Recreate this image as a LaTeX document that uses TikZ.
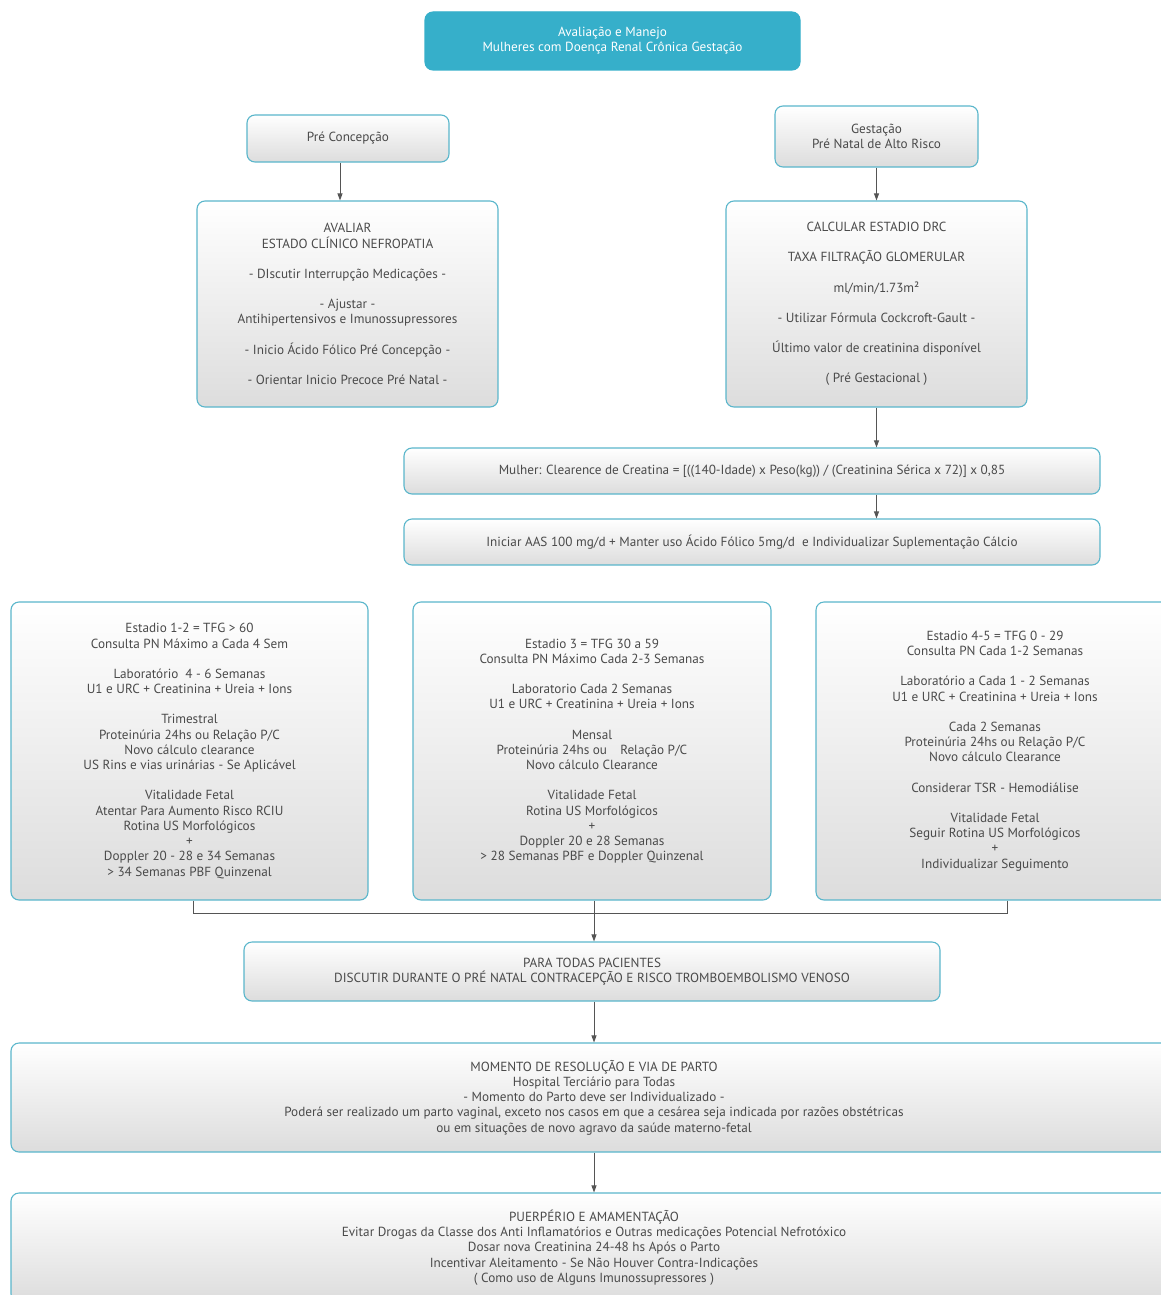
\documentclass[tikz,border=0pt]{standalone}
\usepackage{fontspec}
\setmainfont{PT Sans}
\usepackage{tikz}
\usetikzlibrary{arrows.meta,positioning,calc}
\definecolor{tealhead}{HTML}{36AFCA}
\definecolor{tealborder}{HTML}{5AB6CB}
\definecolor{inkgray}{HTML}{4A4A4A}
\definecolor{linegray}{HTML}{555555}

\begin{document}
\begin{tikzpicture}[
    x=1pt, y=-1pt,
    box/.style={rectangle, rounded corners=8pt, line width=1.1pt, draw=tealborder, top color=white, bottom color=gray!27, align=center, text=inkgray, inner sep=2pt, font={\fontsize{13.2}{15.25}\selectfont}},
    headbox/.style={box, fill=tealhead, top color=tealhead, bottom color=tealhead, draw=tealhead, text=white},
    flowarrow/.style={-{Triangle[length=7pt,width=5pt]}, line width=0.9pt, color=linegray},
    flowline/.style={line width=0.9pt, color=linegray}
]
    \useasboundingbox (0,0) rectangle (1161,1295);
    \clip (0,0) rectangle (1161,1295);

    % --- TITLE ---
    \node[headbox, minimum width=375pt, minimum height=58pt] (title) at (612.5,41) {
        Avaliação e Manejo\\
        Mulheres com Doença Renal Crônica Gestação
    };

    % --- TWO BRANCHES ---
    \node[box, minimum width=202pt, minimum height=47pt] (pre) at (348,138.5) {Pré Concepção};
    \node[box, minimum width=203pt, minimum height=61pt] (gest) at (876.5,136.5) {
        Gestação\\
        Pré Natal de Alto Risco
    };

    \node[box, minimum width=301pt, minimum height=206pt] (aval) at (347.5,304) {
        AVALIAR\\
        ESTADO CLÍNICO NEFROPATIA\\[15pt]
        - DIscutir Interrupção Medicações -\\[15pt]
        - Ajustar -\\
        Antihipertensivos e Imunossupressores\\[15pt]
        - Inicio Ácido Fólico Pré Concepção -\\[15pt]
        - Orientar Inicio Precoce Pré Natal -
    };
    \node[box, minimum width=301pt, minimum height=206pt] (calc) at (876.5,304) {
        CALCULAR ESTADIO DRC\\[15pt]
        TAXA FILTRAÇÃO GLOMERULAR\\[15pt]
        ml/min/1.73m²\\[15pt]
        - Utilizar Fórmula Cockcroft-Gault -\\[15pt]
        Último valor de creatinina disponível\\[15pt]
        ( Pré Gestacional )
    };

    \draw[flowarrow] ([xshift=-8]pre.south) -- ([xshift=-8]pre.south |- aval.north);
    \draw[flowarrow] (gest.south) -- (calc.north);

    % --- FORMULA AND START ---
    \node[box, minimum width=696pt, minimum height=46pt] (formula) at (752,471) {Mulher: Clearence de Creatina = [((140-Idade) x Peso(kg)) / (Creatinina Sérica x 72)] x 0,85};
    \node[box, minimum width=696pt, minimum height=46pt] (aas) at (752,542) {Iniciar AAS 100 mg/d + Manter uso Ácido Fólico 5mg/d\ \ e Individualizar Suplementação Cálcio};

    \draw[flowarrow] (calc.south) -- (calc.south |- formula.north);
    \draw[flowarrow] (formula.south -| calc.south) -- (aas.north -| calc.south);

    % --- STAGES ---
    \node[box, minimum width=357pt, minimum height=298pt] (stageA) at (189.5,751) {
        Estadio 1-2 = TFG > 60\\
        Consulta PN Máximo a Cada 4 Sem\\[15pt]
        Laboratório\ \ 4 - 6 Semanas\\
        U1 e URC + Creatinina + Ureia + Ions\\[15pt]
        Trimestral\\
        Proteinúria 24hs ou Relação P/C\\
        Novo cálculo clearance\\
        US Rins e vias urinárias - Se Aplicável\\[15pt]
        Vitalidade Fetal\\
        Atentar Para Aumento Risco RCIU\\
        Rotina US Morfológicos\\
        +\\
        Doppler 20 - 28 e 34 Semanas\\
        > 34 Semanas PBF Quinzenal
    };
    \node[box, minimum width=358pt, minimum height=298pt] (stageB) at (592,751) {
        Estadio 3 = TFG 30 a 59\\
        Consulta PN Máximo Cada 2-3 Semanas\\[15pt]
        Laboratorio Cada 2 Semanas\\
        U1 e URC + Creatinina + Ureia + Ions\\[15pt]
        Mensal\\
        Proteinúria 24hs ou\quad Relação P/C\\
        Novo cálculo Clearance\\[15pt]
        Vitalidade Fetal\\
        Rotina US Morfológicos\\
        +\\
        Doppler 20 e 28 Semanas\\
        > 28 Semanas PBF e Doppler Quinzenal
    };
    \node[box, minimum width=358pt, minimum height=298pt] (stageC) at (995,751) {
        Estadio 4-5 = TFG 0 - 29\\
        Consulta PN Cada 1-2 Semanas\\[15pt]
        Laboratório a Cada 1 - 2 Semanas\\
        U1 e URC + Creatinina + Ureia + Ions\\[15pt]
        Cada 2 Semanas\\
        Proteinúria 24hs ou Relação P/C\\
        Novo cálculo Clearance\\[15pt]
        Considerar TSR - Hemodiálise\\[15pt]
        Vitalidade Fetal\\
        Seguir Rotina US Morfológicos\\
        +\\
        Individualizar Seguimento
    };

    % --- ALL PATIENTS ---
    \node[box, minimum width=696pt, minimum height=59pt] (todas) at (592,971.5) {
        PARA TODAS PACIENTES\\
        DISCUTIR DURANTE O PRÉ NATAL CONTRACEPÇÃO E RISCO TROMBOEMBOLISMO VENOSO
    };

    \coordinate (join) at (594,913);
    \draw[flowline] ([xshift=3.5]stageA.south) |- (join);
    \draw[flowline] ([xshift=12]stageC.south) |- (join);
    \draw[flowline] ([xshift=2]stageB.south) -- (join);
    \draw[flowarrow] (join) -- (join |- todas.north);

    % --- DELIVERY AND POSTPARTUM ---
    \node[box, minimum width=1166pt, minimum height=109pt] (parto) at (594,1097.5) {
        MOMENTO DE RESOLUÇÃO E VIA DE PARTO\\
        Hospital Terciário para Todas\\
        - Momento do Parto deve ser Individualizado -\\
        Poderá ser realizado um parto vaginal, exceto nos casos em que a cesárea seja indicada por razões obstétricas\\
        ou em situações de novo agravo da saúde materno-fetal
    };
    \node[box, minimum width=1166pt, minimum height=109pt] (puerp) at (594,1247.5) {
        PUERPÉRIO E AMAMENTAÇÃO\\
        Evitar Drogas da Classe dos Anti Inflamatórios e Outras medicações Potencial Nefrotóxico\\
        Dosar nova Creatinina 24-48 hs Após o Parto\\
        Incentivar Aleitamento - Se Não Houver Contra-Indicações\\
        ( Como uso de Alguns Imunossupressores )
    };

    \draw[flowarrow] (join |- todas.south) -- (join |- parto.north);
    \draw[flowarrow] (join |- parto.south) -- (join |- puerp.north);
\end{tikzpicture}
\end{document}
